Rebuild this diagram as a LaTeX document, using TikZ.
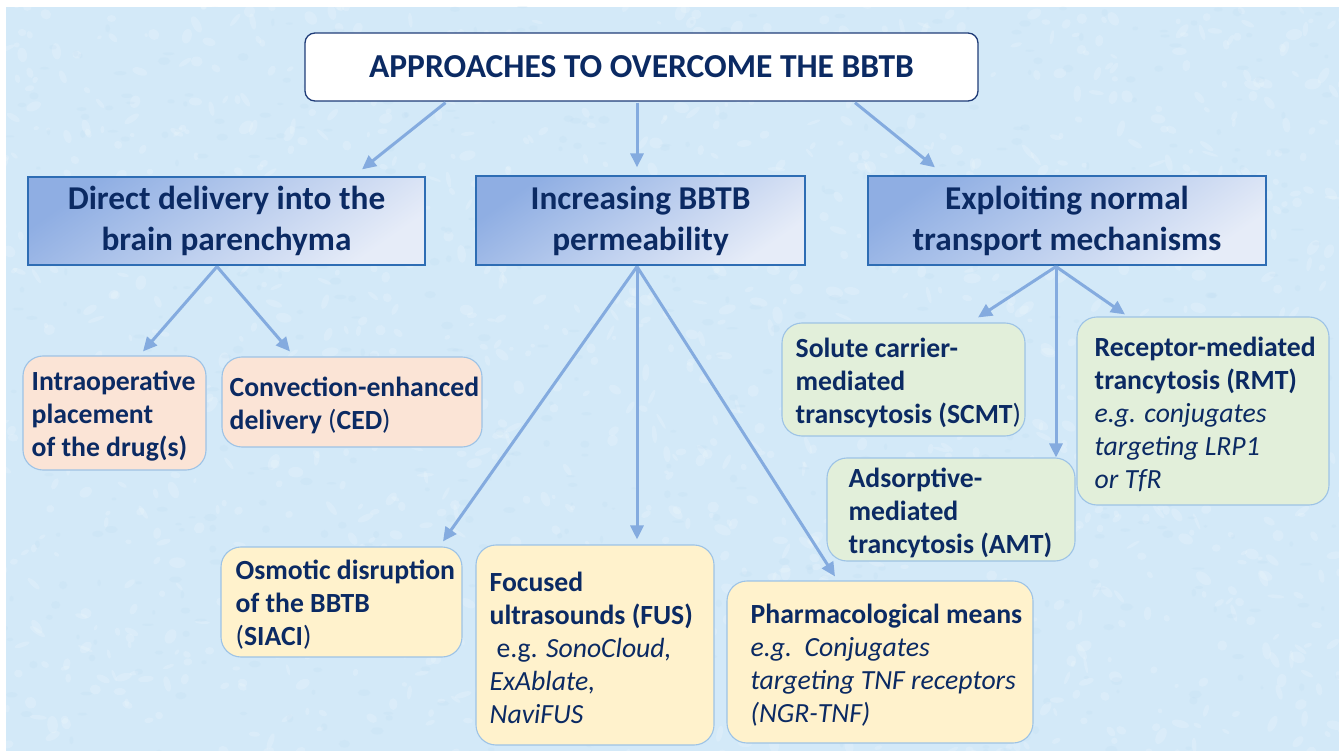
\documentclass[tikz,border=0pt]{standalone}
\usepackage{fontspec}
\setmainfont{Carlito}
\usetikzlibrary{arrows.meta,calc}

\definecolor{bgblue}{HTML}{D3E9F8}
\definecolor{speck}{HTML}{BCDAF1}
\definecolor{navy}{HTML}{0B2A63}
\definecolor{titleline}{HTML}{1F3C78}
\definecolor{catline}{HTML}{2E6DB4}
\definecolor{cattop}{HTML}{8FAEE3}
\definecolor{catbot}{HTML}{E6ECF8}
\definecolor{leafline}{HTML}{9DC3E6}
\definecolor{peach}{HTML}{FBE4D6}
\definecolor{mint}{HTML}{E2EFDA}
\definecolor{cream}{HTML}{FFF2CC}
\definecolor{arrowblue}{HTML}{84ABDF}

\tikzset{
  titlebox/.style={draw=titleline, line width=1.3pt, fill=white, rounded corners=10pt,
    font=\fontsize{33.5}{40}\selectfont\bfseries, text=navy, inner sep=0pt},
  catbox/.style={draw=catline, line width=1.2pt, top color=cattop, bottom color=catbot,
    shading angle=35, align=center, inner sep=0pt,
    font=\fontsize{33.3}{41}\selectfont\bfseries, text=navy},
  leafbox/.style={draw=leafline, line width=1.1pt, rounded corners=20pt, inner sep=0pt},
  leaftext/.style={anchor=west, align=left, inner sep=0pt, text=navy,
    font=\fontsize{27.7}{33}\selectfont\bfseries},
  link/.style={draw=arrowblue, line width=3pt,
    -{Triangle[length=14pt,width=13pt]}},
}

\begin{document}
\begin{tikzpicture}[x=1pt,y=-1pt]
% page and mottled backdrop
\useasboundingbox (0,0) rectangle (1339,751);
\fill[white] (0,0) rectangle (1339,751);
\fill[bgblue] (6,7) rectangle (1339,751);
\begin{scope}
  \clip (6,7) rectangle (1339,751);
  \pgfmathsetseed{17}
  \foreach \i in {1,...,1400}{
    \pgfmathsetmacro\px{rnd*1345}
    \pgfmathsetmacro\py{rnd*760}
    \pgfmathsetmacro\rx{2+rnd*7}
    \pgfmathsetmacro\ry{1.5+rnd*4}
    \pgfmathsetmacro\rot{rnd*180}
    \fill[white, opacity=0.16, rotate around={\rot:(\px,\py)}] (\px,\py) ellipse ({\rx} and {\ry});
  }
  \foreach \i in {1,...,700}{
    \pgfmathsetmacro\px{rnd*1345}
    \pgfmathsetmacro\py{rnd*760}
    \pgfmathsetmacro\rx{1.5+rnd*5}
    \pgfmathsetmacro\ry{1+rnd*3}
    \fill[speck, opacity=0.18] (\px,\py) ellipse ({\rx} and {\ry});
  }
\end{scope}

% title
\node[titlebox, minimum width=673pt, minimum height=68pt] (t) at (641.5,67)
  {APPROACHES TO OVERCOME THE BBTB};

% three approaches
\node[catbox, minimum width=397pt, minimum height=88pt] (c1) at (226.5,221)
  {Direct delivery into the\\brain parenchyma};
\node[catbox, minimum width=329pt, minimum height=89pt] (c2) at (640.5,220.5)
  {Increasing BBTB\\permeability};
\node[catbox, minimum width=398pt, minimum height=89pt] (c3) at (1067,220.5)
  {Exploiting normal\\transport mechanisms};

% direct delivery leaves
\node[leafbox, fill=peach, minimum width=183pt, minimum height=114pt] (l1) at (114.5,413) {};
\node[leaftext] (l1t) at ($(l1.west)+(9,3)$) {Intraoperative\\placement\\of the drug(s)};
\node[leafbox, fill=peach, minimum width=260pt, minimum height=90pt] (l2) at (352,402) {};
\node[leaftext] (l2t) at ($(l2.west)+(8,3)$) {Convection-enhanced\\delivery {\mdseries(}CED{\mdseries)}};

% permeability leaves
\node[leafbox, fill=cream, minimum width=241pt, minimum height=110pt] (l3) at (341.5,602) {};
\node[leaftext] (l3t) at ($(l3.west)+(15,3)$) {Osmotic disruption\\of the BBTB\\{\mdseries(}SIACI{\mdseries)}};
\node[leafbox, fill=cream, minimum width=238pt, minimum height=200pt] (l4) at (595,645) {};
\node[leaftext] (l4t) at ($(l4.west)+(14,3)$) {Focused\\ultrasounds (FUS)\\{\mdseries\hspace*{0.25em}e.g. \itshape SonoCloud,}\\{\mdseries\itshape ExAblate,}\\{\mdseries\itshape NaviFUS}};
\node[leafbox, fill=cream, minimum width=306pt, minimum height=162pt] (l5) at (880,662) {};
\node[leaftext] (l5t) at ($(l5.west)+(24,3)$) {Pharmacological means\\{\mdseries\itshape e.g.\ \ Conjugates}\\{\mdseries\itshape targeting TNF receptors}\\{\mdseries\itshape (NGR-TNF)}};

% transport leaves
\node[leafbox, fill=mint, minimum width=243pt, minimum height=113pt] (l6) at (903.5,379.5) {};
\node[leaftext] (l6t) at ($(l6.west)+(14,3)$) {Solute carrier-\\mediated\\transcytosis (SCMT{\mdseries)}};
\node[leafbox, fill=mint, minimum width=248pt, minimum height=103pt] (l7) at (951,509.5) {};
\node[leaftext] (l7t) at ($(l7.west)+(22,3)$) {Adsorptive-\\mediated\\trancytosis (AMT)};
\node[leafbox, fill=mint, minimum width=252pt, minimum height=188pt] (l8) at (1203,411) {};
\node[leaftext] (l8t) at ($(l8.west)+(18,3)$) {Receptor-mediated\\trancytosis (RMT)\\{\mdseries\itshape e.g. conjugates}\\{\mdseries\itshape targeting LRP1}\\{\mdseries\itshape or TfR}};

% connectors
\draw[link] ($(t.south)+(-196,1)$) -- ($(c1.north)+(135.5,-7)$);
\draw[link] ($(t.south)+(-4.5,1)$) -- ($(c2.north)+(-3.5,-8)$);
\draw[link] ($(t.south)+(213.5,1)$) -- ($(c3.north)+(-132,-8)$);

\draw[link] ($(c1.south)+(-9.5,1)$) -- ($(l1.north)+(28.5,-4)$);
\draw[link] ($(c1.south)+(-9.5,1)$) -- ($(l2.north)+(-62,-5)$);

\draw[link] ($(c2.south)+(-3.5,1)$) -- ($(l3.north)+(101.5,-5)$);
\draw[link] ($(c2.south)+(-3.5,1)$) -- ($(l4.north)+(42,-5)$);
\draw[link] ($(c2.south)+(-3.5,1)$) -- ($(l5.north)+(-45,-4)$);

\draw[link] ($(c3.south)+(-11,1)$) -- ($(l6.north)+(74.5,-5)$);
\draw[link] ($(c3.south)+(-11,1)$) -- ($(l7.north)+(105,0)$);
\draw[link] ($(c3.south)+(-11,1)$) -- ($(l8.north)+(-78,-2)$);
\end{tikzpicture}
\end{document}
